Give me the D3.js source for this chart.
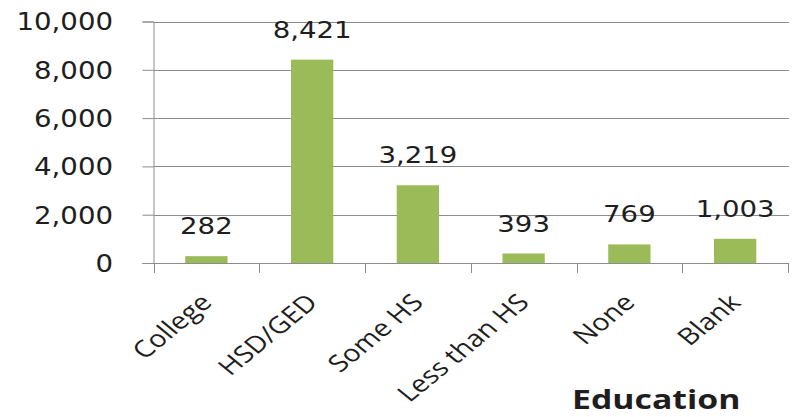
<!DOCTYPE html>
<html><head><meta charset="utf-8">
<script src="https://cdn.jsdelivr.net/npm/d3@7"></script>
<style>html,body{margin:0;padding:0;background:#fff;}svg{display:block;}</style>
</head><body>
<script>
const categories = ["College","HSD/GED","Some HS","Less than HS","None","Blank"];
const values = [282, 8421, 3219, 393, 769, 1003];
const yTicks = [0, 2000, 4000, 6000, 8000, 10000];
const axisTitle = "Education";

const W = 796, H = 417;
const svg = d3.select("body").append("svg").attr("width", W).attr("height", H);

const x = d3.scaleBand().domain(categories).range([153.5, 788]).paddingInner(0.6).paddingOuter(0.3);
const xb = d3.scaleBand().domain(categories).range([153.5, 788]);
const y = d3.scaleLinear().domain([0, 10000]).range([263, 21.5]);
const fmt = d3.format(",");
const gridColor = "#8c8c8c";
const textColor = "#1e1e1e";
const numFont = "'DejaVu Sans', Verdana, sans-serif";

// y axis line + outward ticks
const yAxis = d3.axisLeft(y).tickValues(yTicks).tickSize(11).tickFormat("");
const gy = svg.append("g").attr("transform", "translate(153.5,0)").call(yAxis);
gy.select(".domain").attr("stroke", gridColor);
gy.selectAll(".tick line").attr("stroke", gridColor);
// gridlines
svg.append("g").selectAll("line").data(yTicks).join("line")
  .attr("x1", 153.5).attr("x2", 789)
  .attr("y1", d => Math.round(y(d)) + 0.5).attr("y2", d => Math.round(y(d)) + 0.5)
  .attr("stroke", gridColor).attr("stroke-width", 1);

// y tick labels
svg.append("g").selectAll("text").data(yTicks).join("text")
  .attr("transform", d => `translate(113,${y(d)}) scale(1.15,1)`)
  .attr("dy", "0.37em")
  .attr("text-anchor", "end")
  .attr("font-family", numFont).attr("font-size", 24).attr("fill", textColor)
  .text(d => fmt(d));

// x category ticks
const bounds = categories.map(c => xb(c)).concat([xb(categories[categories.length-1]) + xb.bandwidth()]);
svg.append("g").selectAll("line").data(bounds).join("line")
  .attr("x1", d => Math.round(d) + 0.5).attr("x2", d => Math.round(d) + 0.5)
  .attr("y1", y(0)).attr("y2", y(0) + 10)
  .attr("stroke", gridColor);

// bars
svg.append("g").selectAll("rect").data(values).join("rect")
  .attr("x", (d, i) => x(categories[i]))
  .attr("width", x.bandwidth())
  .attr("y", d => y(d))
  .attr("height", d => y(0) - y(d))
  .attr("fill", "#9bbb59");

// value labels
svg.append("g").selectAll("text").data(values).join("text")
  .attr("transform", (d, i) => `translate(${x(categories[i]) + x.bandwidth()/2},${y(d) - 22}) scale(1.2,1)`)
  .attr("text-anchor", "middle")
  .attr("font-family", numFont).attr("font-size", 23).attr("fill", textColor)
  .text(d => fmt(d));

// category labels
svg.append("g").selectAll("text").data(categories).join("text")
  .attr("transform", d => `translate(${xb(d) + xb.bandwidth()/2 + 7},304) scale(1.22,1) rotate(-45)`)
  .attr("text-anchor", "end")
  .attr("font-family", "'Open Sans', sans-serif").attr("font-size", 23.5).attr("fill", textColor)
  .text(d => d);

// axis title
svg.append("text")
  .attr("transform", "translate(572,409) scale(1.3,1)")
  .attr("font-family", "'Open Sans', sans-serif").attr("font-weight", "bold")
  .attr("font-size", 26).attr("fill", textColor)
  .text(axisTitle);
</script>
</body></html>
